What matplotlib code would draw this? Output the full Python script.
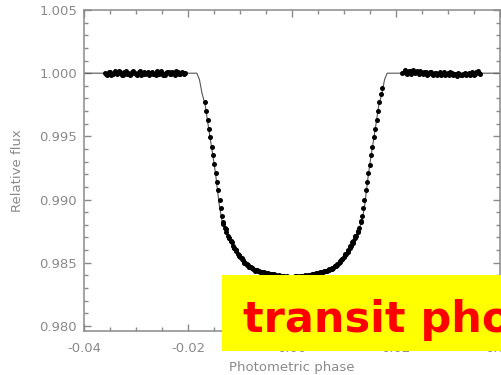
import matplotlib
matplotlib.use("Agg")
import matplotlib.pyplot as plt
from matplotlib.patches import Rectangle
from matplotlib.ticker import MultipleLocator, FormatStrFormatter

# transit model curve (phase, relative flux)
model_phase = [-0.0400, -0.0183, -0.0178, -0.0173, -0.0167, -0.0162, -0.0156,
               -0.0150, -0.0146, -0.0140, -0.0135, -0.0125, -0.0110, -0.0094,
               -0.0071, -0.0052, -0.0030, 0.0000, 0.0030, 0.0052, 0.0071,
               0.0094, 0.0110, 0.0125, 0.0135, 0.0140, 0.0146, 0.0150, 0.0156,
               0.0162, 0.0167, 0.0173, 0.0178, 0.0183, 0.0400]
model_flux = [1.0000, 1.0000, 0.99950, 0.99840, 0.99750, 0.99610, 0.99450,
              0.99290, 0.99170, 0.98960, 0.98840, 0.98720, 0.98590, 0.98510,
              0.98450, 0.98425, 0.98402, 0.98390, 0.98402, 0.98425, 0.98450,
              0.98510, 0.98590, 0.98720, 0.98840, 0.98960, 0.99170, 0.99290,
              0.99450, 0.99610, 0.99750, 0.99840, 0.99950, 1.0000, 1.0000]

# out-of-transit photometry, before ingress
pre_phase = [-0.0360, -0.0355, -0.0350, -0.0345, -0.0340, -0.0335, -0.0330,
             -0.0325, -0.0320, -0.0315, -0.0310, -0.0305, -0.0300, -0.0295,
             -0.0290, -0.0285, -0.0280, -0.0275, -0.0270, -0.0265, -0.0260,
             -0.0255, -0.0250, -0.0245, -0.0240, -0.0235, -0.0230, -0.0225,
             -0.0220, -0.0215, -0.0210, -0.0205,
             -0.03575, -0.03525, -0.03475, -0.03425, -0.03375, -0.03325,
             -0.03275, -0.03225, -0.03175, -0.03125, -0.03075, -0.03025,
             -0.02975, -0.02925, -0.02875, -0.02825, -0.02775, -0.02725,
             -0.02675, -0.02625, -0.02575, -0.02525, -0.02475, -0.02425,
             -0.02375, -0.02325, -0.02275, -0.02225, -0.02175, -0.02125,
             -0.02075]
pre_flux = [1.00005, 0.99985, 1.00012, 0.99992, 1.00020, 0.99998, 1.00008,
            0.99982, 1.00015, 1.00002, 0.99990, 1.00018, 0.99995, 1.00006,
            0.99988, 1.00012, 1.00000, 0.99984, 1.00010, 0.99996, 1.00016,
            0.99991, 1.00004, 0.99987, 1.00011, 0.99997, 1.00007, 0.99989,
            1.00013, 0.99994, 1.00003, 0.99998,
            0.99992, 1.00010, 0.99986, 1.00004, 0.99993, 1.00014, 0.99988,
            1.00006, 0.99995, 0.99983, 1.00009, 1.00001, 0.99987, 1.00017,
            0.99996, 0.99990, 1.00008, 1.00003, 0.99992, 0.99986, 1.00005,
            1.00014, 0.99983, 0.99999, 1.00009, 0.99990, 1.00001, 1.00016,
            0.99993, 1.00008, 0.99991]

# in-transit photometry
in_phase = [-0.01682, -0.01654, -0.01625, -0.01598, -0.01573, -0.01547,
            -0.01522, -0.01496, -0.01470, -0.01444, -0.01418, -0.01392,
            -0.01367, -0.01345, -0.01320, -0.01290, -0.01260, -0.01230,
            -0.01210, -0.01180, -0.01160, -0.01130, -0.01110, -0.01085,
            -0.01070, -0.01045, -0.01020, -0.00995, -0.00970, -0.00945,
            -0.00920, -0.00895, -0.00870, -0.00845, -0.00820, -0.00795,
            -0.00770, -0.00745, -0.00720, -0.00690, -0.00660, -0.00630,
            -0.00600, -0.00570, -0.00540, -0.00500, -0.00460, -0.00420,
            -0.00380, -0.00340, -0.00300, -0.00250, -0.00200, -0.00150,
            -0.00100, -0.00050, 0.00000, 0.00050, 0.00100, 0.00150, 0.00200,
            0.00250, 0.00300, 0.00340, 0.00380, 0.00420, 0.00460, 0.00500,
            0.00540, 0.00570, 0.00600, 0.00630, 0.00660, 0.00690, 0.00720,
            0.00745, 0.00770, 0.00795, 0.00820, 0.00845, 0.00870, 0.00895,
            0.00920, 0.00945, 0.00970, 0.00995, 0.01020, 0.01045, 0.01070,
            0.01085, 0.01110, 0.01130, 0.01160, 0.01180, 0.01210, 0.01230,
            0.01260, 0.01290, 0.01320, 0.01345, 0.01367, 0.01392, 0.01418,
            0.01444, 0.01470, 0.01496, 0.01522, 0.01547, 0.01573, 0.01598,
            0.01625, 0.01654, 0.01682, 0.01710, 0.01735,
            -0.0132, -0.0127, -0.0122, -0.0117, -0.0112, -0.0107, -0.0102,
            -0.0097, -0.0092, -0.0087, -0.0082, -0.0077, -0.0072, -0.0067,
            -0.0062, 0.0062, 0.0067, 0.0072, 0.0077, 0.0082, 0.0087, 0.0092,
            0.0097, 0.0102, 0.0107, 0.0112, 0.0117, 0.0122, 0.0127, 0.0132]
in_flux = [0.99770, 0.99700, 0.99632, 0.99558, 0.99492, 0.99418, 0.99352,
           0.99278, 0.99212, 0.99138, 0.99072, 0.98998, 0.98932, 0.98868,
           0.98822, 0.98778, 0.98742, 0.98715, 0.98698, 0.98672, 0.98662,
           0.98635, 0.98618, 0.98600, 0.98592, 0.98572, 0.98560, 0.98548,
           0.98532, 0.98520, 0.98505, 0.98496, 0.98486, 0.98479, 0.98470,
           0.98463, 0.98455, 0.98450, 0.98444, 0.98441, 0.98436, 0.98433,
           0.98430, 0.98427, 0.98425, 0.98421, 0.98418, 0.98414, 0.98411,
           0.98408, 0.98404, 0.98401, 0.98398, 0.98395, 0.98393, 0.98391,
           0.98390, 0.98392, 0.98393, 0.98396, 0.98398, 0.98400, 0.98405,
           0.98407, 0.98412, 0.98413, 0.98419, 0.98420, 0.98426, 0.98428,
           0.98429, 0.98434, 0.98437, 0.98440, 0.98445, 0.98449, 0.98456,
           0.98462, 0.98471, 0.98478, 0.98487, 0.98495, 0.98506, 0.98519,
           0.98533, 0.98547, 0.98561, 0.98571, 0.98593, 0.98599, 0.98619,
           0.98634, 0.98663, 0.98671, 0.98699, 0.98714, 0.98743, 0.98777,
           0.98823, 0.98867, 0.98933, 0.98997, 0.99073, 0.99137, 0.99213,
           0.99277, 0.99353, 0.99417, 0.99493, 0.99557, 0.99633, 0.99699,
           0.99771, 0.99838, 0.99880,
           0.98810, 0.98766, 0.98696, 0.98675, 0.98614, 0.98601, 0.98551,
           0.98540, 0.98497, 0.98493, 0.98463, 0.98461, 0.98438, 0.98443,
           0.98426, 0.98437, 0.98432, 0.98450, 0.98449, 0.98476, 0.98480,
           0.98511, 0.98526, 0.98567, 0.98585, 0.98632, 0.98659, 0.98715,
           0.98748, 0.98829]

# out-of-transit photometry, after egress
post_phase = [0.0212, 0.0217, 0.0222, 0.0227, 0.0232, 0.0237, 0.0242, 0.0247,
              0.0252, 0.0257, 0.0262, 0.0267, 0.0272, 0.0277, 0.0282, 0.0287,
              0.0292, 0.0297, 0.0302, 0.0307, 0.0312, 0.0317, 0.0322, 0.0327,
              0.0332, 0.0337, 0.0342, 0.0347, 0.0352, 0.0357, 0.0362,
              0.02145, 0.02195, 0.02245, 0.02295, 0.02345, 0.02395, 0.02445,
              0.02495, 0.02545, 0.02595, 0.02645, 0.02695, 0.02745, 0.02795,
              0.02845, 0.02895, 0.02945, 0.02995, 0.03045, 0.03095, 0.03145,
              0.03195, 0.03245, 0.03295, 0.03345, 0.03395, 0.03445, 0.03495,
              0.03545, 0.03595]
post_flux = [1.00003, 1.00022, 0.99995, 1.00014, 1.00026, 0.99998, 1.00010,
             1.00018, 0.99990, 1.00008, 0.99996, 1.00012, 0.99985, 1.00004,
             0.99993, 0.99983, 1.00006, 0.99991, 0.99986, 1.00002, 0.99994,
             0.99981, 0.99997, 0.99988, 1.00005, 0.99992, 0.99984, 1.00008,
             0.99995, 1.00015, 0.99990,
             1.00012, 1.00004, 1.00021, 0.99992, 1.00009, 1.00016, 0.99996,
             1.00002, 1.00011, 0.99986, 1.00007, 0.99993, 1.00001, 0.99989,
             1.00010, 0.99995, 0.99984, 0.99999, 1.00007, 0.99988, 0.99996,
             1.00003, 0.99985, 0.99994, 0.99987, 1.00001, 0.99996, 0.99989,
             1.00011, 0.99998]

GREY = "#8a8a8a"

fig = plt.figure(figsize=(5.01, 3.75), dpi=100)
ax = fig.add_axes([84 / 501, 1 - 331 / 375, 416 / 501, 321 / 375])

ax.plot(model_phase, model_flux, color="#555555", lw=0.8, zorder=2)
for xs, ys in [(pre_phase, pre_flux), (in_phase, in_flux), (post_phase, post_flux)]:
    ax.plot(xs, ys, "o", color="black", ms=3.6, mew=0, zorder=3)

ax.set_xlim(-0.04, 0.04)
ax.set_ylim(0.9796, 1.005)
ax.xaxis.set_major_locator(MultipleLocator(0.02))
ax.xaxis.set_minor_locator(MultipleLocator(0.005))
ax.yaxis.set_major_locator(MultipleLocator(0.005))
ax.yaxis.set_minor_locator(MultipleLocator(0.001))
ax.xaxis.set_major_formatter(FormatStrFormatter("%.2f"))
ax.yaxis.set_major_formatter(FormatStrFormatter("%.3f"))

for s in ax.spines.values():
    s.set_color(GREY)
    s.set_linewidth(1.1)
ax.tick_params(which="both", direction="in", top=True, right=True,
               color=GREY, labelcolor=GREY, labelsize=9.5, width=1.0)
ax.tick_params(which="major", length=5)
ax.tick_params(which="minor", length=2.8)
ax.tick_params(axis="x", pad=8)
ax.tick_params(axis="y", pad=5)

ax.set_xlabel("Photometric phase", color=GREY, fontsize=9.5, labelpad=4)
ax.set_ylabel("Relative flux", color=GREY, fontsize=9.5, labelpad=11)

# yellow banner over the lower right corner
fig.add_artist(Rectangle((222 / 501, 1 - 351 / 375), 0.6, 76 / 375,
                         transform=fig.transFigure, facecolor="#ffff00",
                         edgecolor="none", zorder=5))
fig.text(243 / 501, 1 - 332 / 375, "transit photometry", color="#ff0000",
         fontsize=31, fontweight="bold", va="baseline", ha="left", zorder=6)

fig.savefig("out.png", dpi=100)
